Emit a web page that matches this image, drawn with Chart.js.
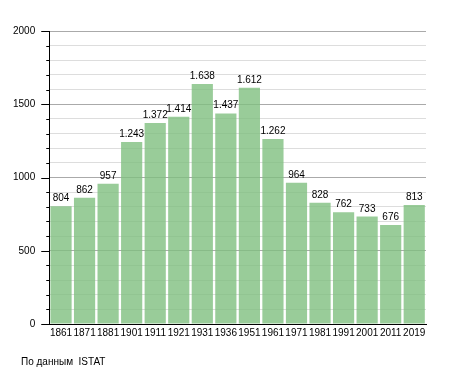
<!DOCTYPE html>
<html><head><meta charset="utf-8">
<script src="https://cdn.jsdelivr.net/npm/chart.js@4/dist/chart.umd.min.js"></script>
<style>
html,body{margin:0;padding:0;background:#fff;}
#wrap{position:relative;width:455px;height:373px;}
#note{position:absolute;left:21px;top:356px;font:10px "Liberation Sans",Arial,sans-serif;color:#000;white-space:pre;}
</style></head>
<body><div id="wrap"><canvas id="c" width="455" height="373"></canvas><div id="note">По данным  ISTAT</div></div>
<script>
const years = ["1861","1871","1881","1901","1911","1921","1931","1936","1951","1961","1971","1981","1991","2001","2011","2019"];
const population = [804,862,957,1243,1372,1414,1638,1437,1612,1262,964,828,762,733,676,813];
const yMin = 0, yMax = 2000, yMinorStep = 100, yMajorStep = 500;

function fmt(v){return String(v).replace(/\B(?=(\d{3})+(?!\d))/g,'.');}

const FONT = '"Liberation Sans", Arial, sans-serif';

const labelPlugin = {
  id:'valueLabels',
  afterDatasetsDraw(chart){
    const ctx = chart.ctx;
    const meta = chart.getDatasetMeta(0);
    ctx.save();
    ctx.font = '10px ' + FONT;
    ctx.fillStyle = '#000';
    ctx.textAlign = 'center';
    ctx.textBaseline = 'alphabetic';
    meta.data.forEach((bar,i)=>{
      ctx.fillText(fmt(population[i]), bar.x, bar.y - 5);
    });
    ctx.restore();
  }
};
const tickPlugin = {
  id:'yTickMarks',
  afterDraw(chart){
    const ctx = chart.ctx, y = chart.scales.y, x0 = chart.chartArea.left;
    ctx.save();
    ctx.strokeStyle = '#000';
    ctx.lineWidth = 1;
    for(let v=yMin; v<=yMax; v+=yMinorStep){
      const py = Math.round(y.getPixelForValue(v)) + 0.5;
      const len = (v % yMajorStep === 0) ? 8 : 3;
      ctx.beginPath(); ctx.moveTo(x0-len, py); ctx.lineTo(x0, py); ctx.stroke();
    }
    ctx.restore();
  }
};

new Chart(document.getElementById('c'), {
  type:'bar',
  data:{labels:years, datasets:[{data:population, backgroundColor:'rgba(128,191,128,0.8)', borderWidth:0, barPercentage:0.9, categoryPercentage:1.0}]},
  options:{
    responsive:false, animation:false, devicePixelRatio:1,
    layout:{padding:{left:7, right:29, top:31, bottom:31}},
    plugins:{legend:{display:false}, tooltip:{enabled:false}},
    scales:{
      x:{
        grid:{display:false, drawTicks:false},
        border:{display:true, color:'#000', width:1},
        ticks:{autoSkip:false, maxRotation:0, minRotation:0, padding:3, color:'#000', font:{family:FONT, size:10}}
      },
      y:{
        min:yMin, max:yMax,
        grid:{color:(c)=> (c.tick && c.tick.value % yMajorStep === 0) ? '#aaaaaa' : '#dddddd', tickLength:8, tickColor:'rgba(0,0,0,0)'},
        border:{display:true, color:'#000', width:1},
        ticks:{autoSkip:false, stepSize:yMinorStep, padding:6, color:'#000', font:{family:FONT, size:10},
          callback:(v)=> (v % yMajorStep === 0) ? String(v) : ''}
      }
    }
  },
  plugins:[labelPlugin, tickPlugin]
});
</script></body></html>
